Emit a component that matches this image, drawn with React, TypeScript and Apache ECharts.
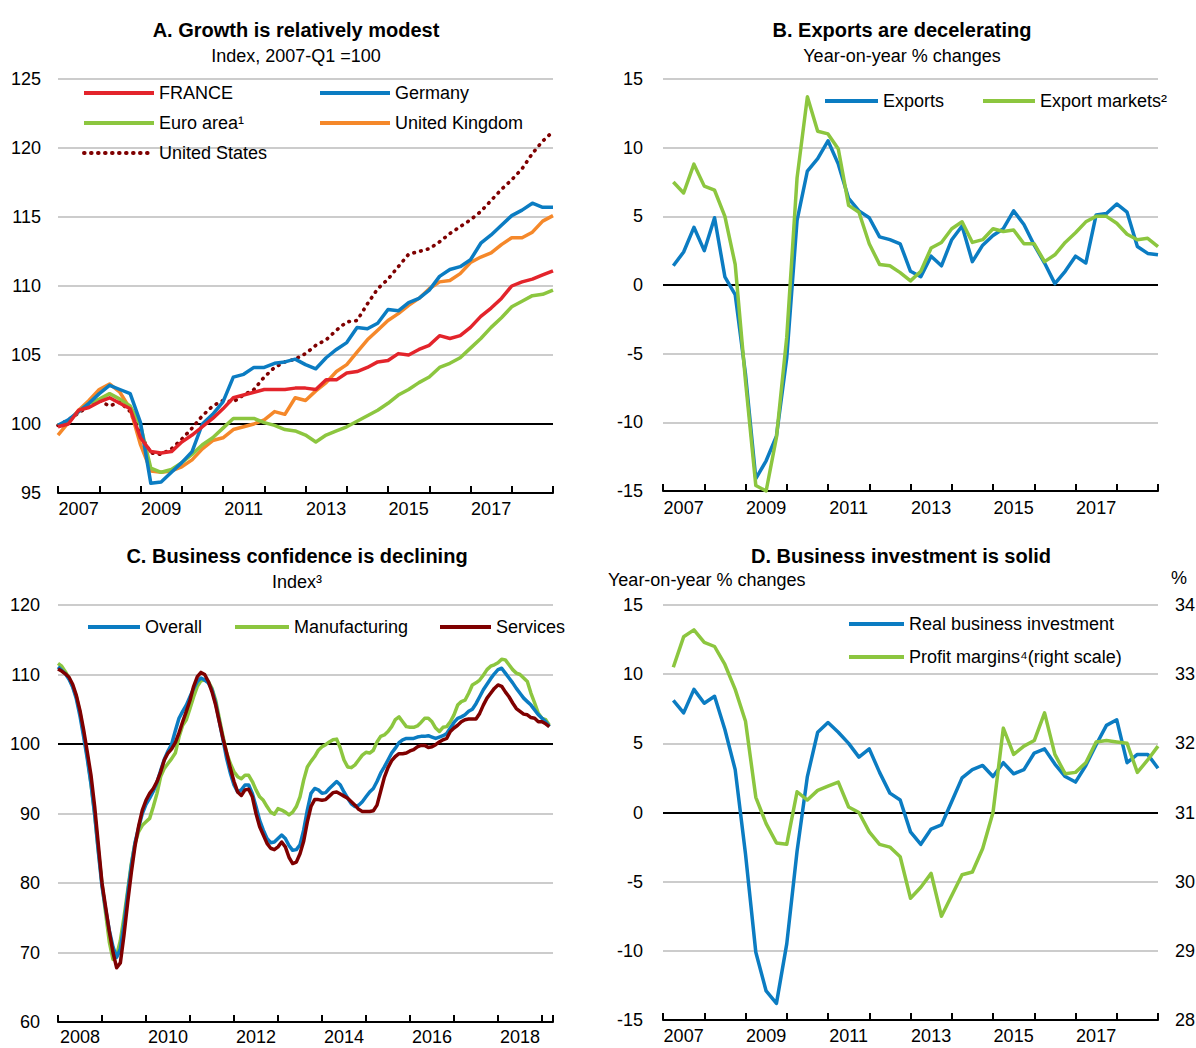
import React, { useEffect, useRef } from 'react';
import * as echarts from 'echarts';

const FONT = '"Liberation Sans Narrow", "Arial Narrow", "Liberation Sans", Arial, sans-serif';
const TXT = '#000000';
const GREY = '#cccccc';
const FS = 18;

// ---------- Panel A: real GDP index, 2007-Q1 = 100 (quarterly, from 2006-Q4, plotted at quarter end)
const A_START_YEAR = 2006;
const A_START_Q = 4;
const A_FRANCE = [99.8, 100.0, 101.0, 101.2, 101.6, 101.9, 101.5, 101.1, 99.0, 98.0, 97.9, 98.0, 98.7, 99.2, 99.8, 100.4, 101.1, 101.9, 102.1, 102.3, 102.5, 102.5, 102.5, 102.6,
  102.6, 102.5, 103.2, 103.2, 103.7, 103.8, 104.1, 104.5, 104.6, 105.1, 105.0, 105.4, 105.7, 106.4, 106.2, 106.4, 107.0, 107.8, 108.4, 109.1, 110.0, 110.3, 110.5, 110.8, 111.1];
const A_GERMANY = [99.9, 100.3, 100.9, 101.5, 102.2, 102.8, 102.5, 102.2, 100.1, 95.7, 95.8, 96.5, 97.2, 98.0, 100.0, 100.7, 101.6, 103.4, 103.6, 104.1, 104.1, 104.4, 104.5, 104.7,
  104.3, 104.0, 104.8, 105.4, 105.9, 107.0, 106.9, 107.3, 108.3, 108.2, 108.8, 109.1, 109.7, 110.7, 111.2, 111.4, 111.9, 113.1, 113.7, 114.4, 115.1, 115.5, 116.0, 115.7, 115.7];
const A_EURO = [99.9, 100.2, 100.9, 101.5, 101.8, 102.2, 101.8, 101.3, 99.9, 96.8, 96.5, 96.7, 97.2, 97.8, 98.5, 99.0, 99.7, 100.4, 100.4, 100.4, 100.1, 99.9, 99.6, 99.5,
  99.2, 98.7, 99.2, 99.5, 99.8, 100.2, 100.6, 101.0, 101.5, 102.1, 102.5, 103.0, 103.4, 104.1, 104.4, 104.8, 105.5, 106.2, 107.0, 107.7, 108.5, 108.9, 109.3, 109.4, 109.7];
const A_UK = [99.2, 100.1, 101.0, 101.7, 102.5, 102.9, 102.3, 101.1, 98.5, 96.6, 96.5, 96.6, 96.9, 97.4, 98.2, 98.8, 99.0, 99.6, 99.8, 100.0, 100.3, 100.9, 100.7, 101.9,
  101.7, 102.4, 103.0, 103.8, 104.3, 105.2, 106.1, 106.8, 107.5, 108.0, 108.6, 109.1, 109.8, 110.3, 110.4, 110.9, 111.7, 112.1, 112.4, 113.0, 113.5, 113.5, 113.9, 114.7, 115.1];
const A_US = [99.9, 100.3, 100.8, 101.3, 101.7, 101.3, 101.6, 100.9, 99.2, 97.9, 97.8, 98.2, 98.9, 99.7, 100.6, 101.3, 101.7, 101.6, 102.1, 102.5, 103.4, 104.1, 104.5, 104.7,
  105.1, 105.7, 106.1, 106.8, 107.4, 107.5, 108.7, 109.8, 110.5, 111.4, 112.3, 112.5, 112.7, 113.2, 113.8, 114.3, 114.8, 115.4, 116.2, 117.0, 117.7, 118.5, 119.6, 120.5, 121.2];

// ---------- Panel B: exports, y-o-y % (quarterly from 2007-Q1)
const B_START_YEAR = 2007;
const B_START_Q = 1;
const B_EXPORTS = [1.4, 2.4, 4.2, 2.5, 4.9, 0.6, -0.7, -6.5, -14.1, -12.8, -11.0, -5.3, 4.7, 8.3, 9.2, 10.5, 8.8, 6.3, 5.4, 4.9, 3.5, 3.3, 3.0,
  1.0, 0.6, 2.1, 1.4, 3.3, 4.3, 1.7, 2.9, 3.6, 4.1, 5.4, 4.4, 2.9, 1.6, 0.1, 1.0, 2.1, 1.6, 5.1, 5.2, 5.9, 5.3, 2.8, 2.3, 2.2];
const B_MARKETS = [7.5, 6.7, 8.8, 7.2, 6.9, 5.0, 1.5, -7.0, -14.6, -15.0, -11.1, -3.8, 7.8, 13.7, 11.2, 11.0, 9.9, 5.8, 5.3, 3.0, 1.5, 1.4, 0.9,
  0.3, 1.0, 2.7, 3.1, 4.1, 4.6, 3.1, 3.3, 4.1, 3.9, 4.0, 3.0, 3.0, 1.7, 2.2, 3.1, 3.8, 4.6, 5.0, 5.0, 4.5, 3.7, 3.3, 3.4, 2.8];

// ---------- Panel C: business confidence (monthly from 2007-12, plotted at month end)
const C_START_YEAR = 2007;
const C_START_M = 12;
const C_OVERALL = [
  111.1, 110.6, 110.1, 109.3, 108.2, 106.5, 104.0, 101.0, 97.8, 94.2, 89.8, 84.5, 79.5, 76.2, 73.2, 70.8, 69.3, 70.5, 74.0, 78.5,
  82.5, 85.8, 88.0, 90.0, 91.3, 92.2, 93.2, 94.5, 96.2, 97.8, 99.0, 100.0, 101.9, 103.7,
  104.7, 105.6, 106.8, 108.0, 109.0, 109.5, 109.2, 108.8, 107.8, 105.9, 103.2, 100.6, 97.9, 95.8, 94.1, 93.1, 93.4, 94.1, 94.1, 92.9,
  91.0, 89.0, 87.6, 86.4, 85.8, 85.9, 86.4, 86.9, 86.4, 85.4, 84.7, 84.8, 85.5,
  87.6, 90.5, 92.9, 93.6, 93.4, 92.9, 93.0, 93.6, 94.1, 94.6, 94.1, 93.1, 92.2, 91.4, 91.0, 91.2, 91.7, 92.4, 93.1, 93.6,
  94.6, 95.8, 96.7, 97.7, 98.7, 99.4, 100.2, 100.6, 100.8, 100.8, 100.8, 101.0, 101.1, 101.1,
  101.2, 101.0, 100.8, 101.0, 101.2, 101.5, 102.3, 103.1, 103.7, 103.9, 104.2, 104.7, 105.0, 105.8, 106.8, 107.8, 108.6, 109.4, 110.1, 110.7,
  110.9, 110.2, 109.5, 108.8, 108.0, 107.3, 106.6, 106.1, 105.6, 104.9, 104.2, 103.7, 103.2, 102.5];
const C_MANUF = [
  111.6, 111.2, 110.4, 109.5, 108.3, 106.8, 104.5, 101.5, 98.2, 94.3, 90.0, 84.7, 79.9, 75.6, 71.5, 69.0, 69.6, 71.7, 75.1, 78.9,
  82.8, 85.7, 87.4, 88.3, 88.8, 89.3, 91.0, 92.9, 95.3, 96.5, 97.2, 97.9, 98.7, 101.0,
  102.7, 103.5, 105.1, 106.8, 108.3, 109.1, 109.2, 109.0, 108.0, 106.3, 103.7, 101.1, 98.7, 97.2, 96.0, 95.3, 95.0, 95.5, 95.5, 94.6,
  93.4, 92.4, 91.9, 91.0, 90.2, 89.9, 90.7, 90.5, 90.2, 89.8, 90.2, 91.0, 92.4,
  94.8, 96.7, 97.5, 98.2, 99.1, 99.6, 99.9, 100.3, 100.6, 100.7, 99.4, 97.7, 96.7, 96.6, 97.0, 97.7, 98.4, 98.8, 98.7, 99.1,
  100.3, 101.1, 101.3, 101.8, 102.5, 103.5, 103.9, 103.2, 102.5, 102.4, 102.4, 102.6, 103.1, 103.7,
  103.7, 103.2, 102.3, 101.8, 102.4, 102.5, 103.2, 104.2, 105.6, 106.1, 106.3, 107.3, 108.5, 108.8, 109.2, 109.9, 110.7, 111.2, 111.4, 111.7,
  112.2, 112.1, 111.4, 110.7, 110.2, 110.0, 109.5, 109.0, 107.3, 105.9, 104.4, 103.7, 103.5, 102.7];
const C_SERVICES = [
  110.8, 110.5, 110.1, 109.6, 108.6, 107.0, 104.8, 102.0, 98.8, 95.5, 91.0, 85.5, 80.0, 76.5, 73.0, 70.0, 67.8, 68.5, 72.5, 77.2,
  81.5, 85.3, 88.2, 90.5, 91.9, 92.9, 93.6, 94.6, 96.0, 97.7, 98.7, 99.3, 100.2, 101.6,
  103.2, 104.7, 106.3, 108.3, 109.7, 110.3, 110.0, 109.0, 107.5, 105.6, 103.2, 100.8, 98.7, 96.5, 94.6, 93.1, 92.6, 93.4, 93.5, 92.4,
  90.0, 88.1, 86.9, 85.7, 85.0, 84.8, 85.2, 85.9, 85.2, 83.7, 82.8, 83.0, 84.2,
  86.0, 88.8, 91.0, 92.0, 92.0, 91.9, 92.0, 92.5, 93.0, 93.1, 92.8, 92.5, 92.2, 91.7, 91.2, 90.6, 90.3, 90.3, 90.3, 90.4,
  91.2, 93.2, 95.2, 96.6, 97.6, 98.2, 98.6, 98.6, 98.7, 99.0, 99.2, 99.6, 99.8, 99.8,
  99.5, 99.6, 99.9, 100.3, 100.6, 100.8, 101.8, 102.3, 102.7, 103.2, 103.5, 103.6, 103.6, 103.6, 104.4, 105.6, 106.6, 107.3, 108.0, 108.5,
  108.3, 107.5, 106.8, 105.9, 105.1, 104.7, 104.3, 104.2, 103.8, 103.7, 103.2, 103.2, 102.9, 102.5];

// ---------- Panel D: business investment y-o-y % (left) and profit margins % (right), quarterly from 2007-Q1
const D_START_YEAR = 2007;
const D_START_Q = 1;
const D_INVEST = [8.1, 7.2, 8.9, 7.9, 8.4, 6.0, 3.1, -3.0, -10.1, -12.9, -13.8, -9.5, -2.8, 2.6, 5.8, 6.5, 5.8, 5.0, 4.0, 4.6, 2.9, 1.4, 0.9,
  -1.4, -2.3, -1.2, -0.9, 0.8, 2.5, 3.1, 3.4, 2.6, 3.6, 2.8, 3.1, 4.3, 4.6, 3.5, 2.6, 2.2, 3.4, 4.9, 6.3, 6.7, 3.6, 4.2, 4.2, 3.2];
const D_MARGINS = [33.1, 33.54, 33.64, 33.46, 33.4, 33.14, 32.78, 32.32, 31.22, 30.84, 30.56, 30.54, 31.3, 31.18, 31.32, 31.38, 31.44, 31.08, 31.0, 30.72, 30.54, 30.5, 30.36,
  29.76, 29.92, 30.12, 29.5, 29.8, 30.1, 30.14, 30.48, 31.0, 32.22, 31.84, 31.96, 32.04, 32.44, 31.84, 31.56, 31.58, 31.72, 32.02, 32.04, 32.02, 32.0, 31.58, 31.76, 31.96];

// ---------- tick labels
const X_LABELS_ABD = ['2007', '2009', '2011', '2013', '2015', '2017'];
const X_LABELS_C = ['2008', '2010', '2012', '2014', '2016', '2018'];

// colours
const C_RED = '#e3242b';
const C_BLUE = '#0b7cc2';
const C_GREEN = '#8cc63f';
const C_ORANGE = '#f5882a';
const C_MAROON = '#7f0000';

const quarterly = (vals: number[], y0: number, q0: number) => vals.map((v, i) => [y0 + (q0 + i) / 4, v]);
const monthly = (vals: number[], y0: number, m0: number) => vals.map((v, i) => [y0 + (m0 + i) / 12, v]);

function timeAxes(gridIndex: number, min: number, max: number, labels: string[], margin: number) {
  const tick = {
    type: 'value', gridIndex, min, max, interval: 1, position: 'bottom',
    axisLine: { show: true, onZero: false, lineStyle: { color: '#000', width: 2 } },
    axisTick: { show: true, inside: true, length: 7, lineStyle: { color: '#000', width: 2 } },
    axisLabel: { show: false }, splitLine: { show: false },
  };
  const label = {
    type: 'value', gridIndex, min: min - 0.5, max: max - 0.5, interval: 0.5, position: 'bottom',
    axisLine: { show: false, onZero: false }, axisTick: { show: false }, splitLine: { show: false },
    axisLabel: {
      show: true, margin, fontSize: FS, fontFamily: FONT, color: TXT, hideOverlap: false,
      showMinLabel: true, showMaxLabel: true,
      formatter: (v: number) => (labels.includes(String(v)) ? String(v) : ''),
    },
  };
  return [tick, label];
}

function valueAxis(gridIndex: number, min: number, max: number, interval: number, blackAt: number, margin: number) {
  const colors: string[] = [];
  for (let v = min; v <= max + 1e-9; v += interval) colors.push(Math.abs(v - blackAt) < 1e-9 ? '#000000' : GREY);
  return {
    type: 'value', gridIndex, min, max, interval,
    axisLine: { show: false }, axisTick: { show: false },
    axisLabel: { margin, fontSize: FS, fontFamily: FONT, color: TXT },
    splitLine: { show: true, lineStyle: { color: colors, width: 2 } },
  };
}

function line(name: string, xi: number, yi: number, data: any[], color: string, extra: any = {}) {
  return {
    type: 'line', name, xAxisIndex: xi, yAxisIndex: yi, data, symbol: 'none', showSymbol: false,
    clip: false, silent: true, animation: false,
    lineStyle: { color, width: 3.5, join: 'round', ...(extra.lineStyle || {}) },
    itemStyle: { color },
  };
}

function legend(names: string[], left: number, top: number, itemWidth: number, orient = 'vertical', itemGap = 10) {
  return {
    data: names, left, top, orient, itemGap, itemWidth, itemHeight: 20, selectedMode: false, padding: 0,
    itemStyle: { opacity: 0 },
    lineStyle: { width: 4 },
    textStyle: { fontSize: FS, fontFamily: FONT, color: TXT, lineHeight: 20 },
  };
}

function title(text: string, sub: string, left: number, top: number) {
  return {
    text, subtext: sub, left, top, textAlign: 'center', padding: 0, itemGap: 5,
    textStyle: { fontSize: 20, fontWeight: 'bold', fontFamily: FONT, color: TXT, lineHeight: 22 },
    subtextStyle: { fontSize: FS, fontFamily: FONT, color: TXT, lineHeight: 20 },
  };
}

function buildOption() {
  const [xa0, xa1] = timeAxes(0, 2007, 2019, X_LABELS_ABD, 7);
  const [xb0, xb1] = timeAxes(1, 2007, 2019, X_LABELS_ABD, 8);
  const [xc0, xc1] = timeAxes(2, 2008, 2019.25, X_LABELS_C, 6);
  const [xd0, xd1] = timeAxes(3, 2007, 2019, X_LABELS_ABD, 7);
  const yRight = {
    type: 'value', gridIndex: 3, min: 28, max: 34, interval: 1, position: 'right',
    axisLine: { show: false }, axisTick: { show: false }, splitLine: { show: false },
    axisLabel: { margin: 17, fontSize: FS, fontFamily: FONT, color: TXT },
  };
  return {
    animation: false,
    backgroundColor: '#ffffff',
    textStyle: { fontFamily: FONT },
    title: [
      title('A. Growth is relatively modest', 'Index, 2007-Q1 =100', 296, 19),
      title('B. Exports are decelerating', 'Year-on-year % changes', 902, 19),
      title('C. Business confidence is declining', 'Index³', 297, 545),
      title('D. Business investment is solid', '', 901, 545),
      { text: 'Year-on-year % changes', left: 608, top: 571, padding: 0, textStyle: { fontSize: FS, fontWeight: 'normal', fontFamily: FONT, color: TXT } },
      { text: '%', left: 1171, top: 569, padding: 0, textStyle: { fontSize: FS, fontWeight: 'normal', fontFamily: FONT, color: TXT } },
    ],
    legend: [
      legend(['FRANCE', 'Euro area¹', 'United States'], 82, 83, 70),
      legend(['Germany', 'United Kingdom'], 318, 83, 70),
      legend(['Exports'], 823, 91, 53),
      legend(['Export markets²'], 981, 91, 52),
      legend(['Overall'], 86, 617, 52),
      legend(['Manufacturing'], 233, 617, 54),
      legend(['Services'], 438, 617, 51),
      legend(['Real business investment', 'Profit margins⁴(right scale)'], 847, 614, 55, 'vertical', 13),
    ],
    grid: [
      { left: 58, top: 79, width: 495, height: 414, containLabel: false, outerBoundsMode: 'none' },
      { left: 663, top: 79, width: 495, height: 412, containLabel: false, outerBoundsMode: 'none' },
      { left: 58, top: 605, width: 495, height: 417, containLabel: false, outerBoundsMode: 'none' },
      { left: 663, top: 605, width: 495, height: 415, containLabel: false, outerBoundsMode: 'none' },
    ],
    xAxis: [xa0, xa1, xb0, xb1, xc0, xc1, xd0, xd1],
    yAxis: [
      valueAxis(0, 95, 125, 5, 100, 17),
      valueAxis(1, -15, 15, 5, 0, 20),
      valueAxis(2, 60, 120, 10, 100, 18),
      valueAxis(3, -15, 15, 5, 0, 20),
      yRight,
    ],
    series: [
      line('United States', 0, 0, quarterly(A_US, A_START_YEAR, A_START_Q), C_MAROON, { lineStyle: { width: 3.6, type: [0.6, 6.4], cap: 'round' } }),
      line('United Kingdom', 0, 0, quarterly(A_UK, A_START_YEAR, A_START_Q), C_ORANGE),
      line('Euro area¹', 0, 0, quarterly(A_EURO, A_START_YEAR, A_START_Q), C_GREEN),
      line('Germany', 0, 0, quarterly(A_GERMANY, A_START_YEAR, A_START_Q), C_BLUE),
      line('FRANCE', 0, 0, quarterly(A_FRANCE, A_START_YEAR, A_START_Q), C_RED),

      line('Exports', 2, 1, quarterly(B_EXPORTS, B_START_YEAR, B_START_Q), C_BLUE),
      line('Export markets²', 2, 1, quarterly(B_MARKETS, B_START_YEAR, B_START_Q), C_GREEN),

      line('Manufacturing', 4, 2, monthly(C_MANUF, C_START_YEAR, C_START_M), C_GREEN),
      line('Overall', 4, 2, monthly(C_OVERALL, C_START_YEAR, C_START_M), C_BLUE),
      line('Services', 4, 2, monthly(C_SERVICES, C_START_YEAR, C_START_M), C_MAROON),

      line('Real business investment', 6, 3, quarterly(D_INVEST, D_START_YEAR, D_START_Q), C_BLUE),
      line('Profit margins⁴(right scale)', 6, 4, quarterly(D_MARGINS, D_START_YEAR, D_START_Q), C_GREEN),
    ],
  };
}

export default function App() {
  const ref = useRef<HTMLDivElement>(null);
  useEffect(() => {
    const chart = echarts.init(ref.current as HTMLDivElement, null, { renderer: 'svg' });
    chart.setOption(buildOption() as any);
    return () => chart.dispose();
  }, []);
  return (
    <div
      ref={ref}
      style={{ position: 'absolute', left: 0, top: 0, width: 1196, height: 1048, background: '#ffffff' }}
    />
  );
}
